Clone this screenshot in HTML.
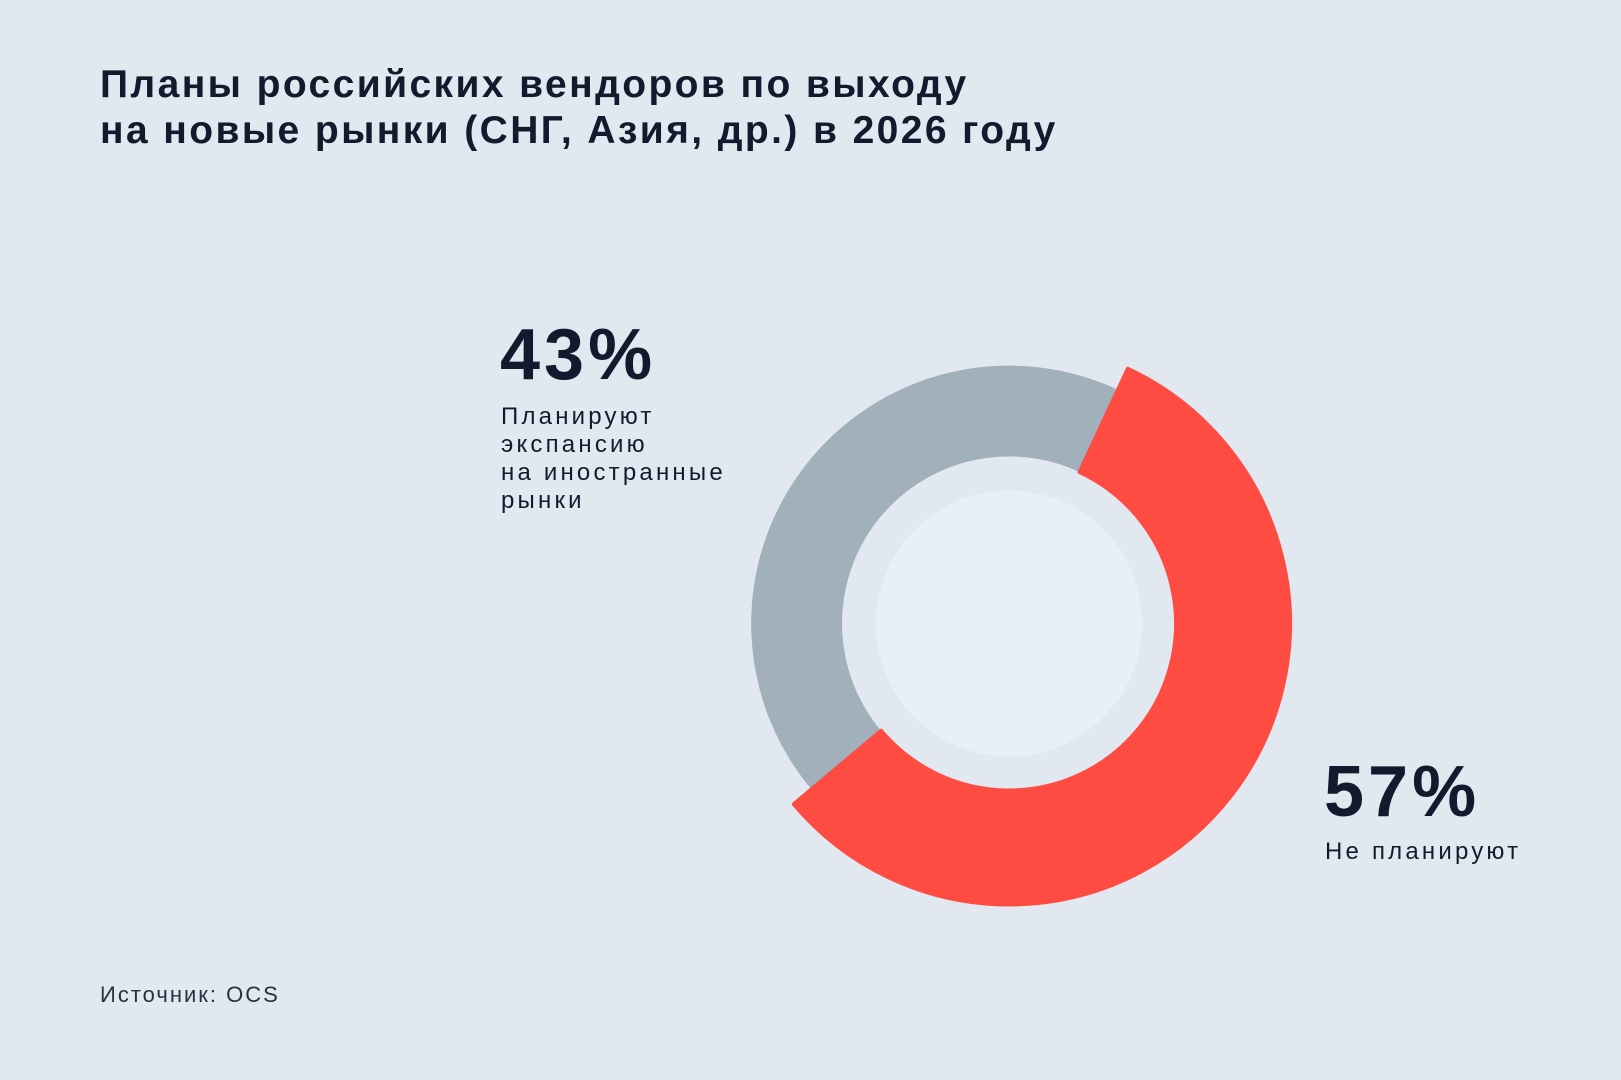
<!DOCTYPE html>
<html><head><meta charset="utf-8"><style>
body{margin:0;width:1621px;height:1080px;background:#e1e8f0;overflow:hidden;font-family:"Liberation Sans","DejaVu Sans",sans-serif;color:#141a2e}
.t{position:absolute;left:100px;top:62px;font-size:39px;font-weight:bold;line-height:46px;letter-spacing:2.4px}
.big{position:absolute;font-size:72px;font-weight:bold;letter-spacing:4px;line-height:70px}
.lab{position:absolute;font-size:24px;line-height:28px;letter-spacing:3.2px}
.src{position:absolute;left:100px;top:982px;font-size:22px;color:#2a3040;letter-spacing:2px}
</style></head><body>
<div class="t">Планы российских вендоров по выходу<br>на новые рынки (СНГ, Азия, др.) в 2026 году</div>
<svg width="1621" height="1080" style="position:absolute;left:0;top:0">
<path d="M881.1 730.8 L811.4 789.3 A258 258 0 0 1 1118 389.7 L1079.6 472.1 A167 167 0 0 0 881.1 730.8 Z" fill="#a1b0ba"/>
<path d="M1127.8 368.8 A281 281 0 1 1 793.8 804.1 L881.1 730.8 A167 167 0 1 0 1079.6 472.1 Z" fill="#ff4c43" stroke="#ff4c43" stroke-width="4" stroke-linejoin="round"/>
<circle cx="1009" cy="623.5" r="133" fill="#e9eff6"/>
</svg>
<div class="big" style="left:500px;top:320px">43%</div>
<div class="lab" style="left:501px;top:403px">Планируют<br>экспансию<br>на иностранные<br>рынки</div>
<div class="big" style="left:1324px;top:757px">57%</div>
<div class="lab" style="left:1325px;top:838px">Не планируют</div>
<div class="src">Источник: OCS</div>
</body></html>
